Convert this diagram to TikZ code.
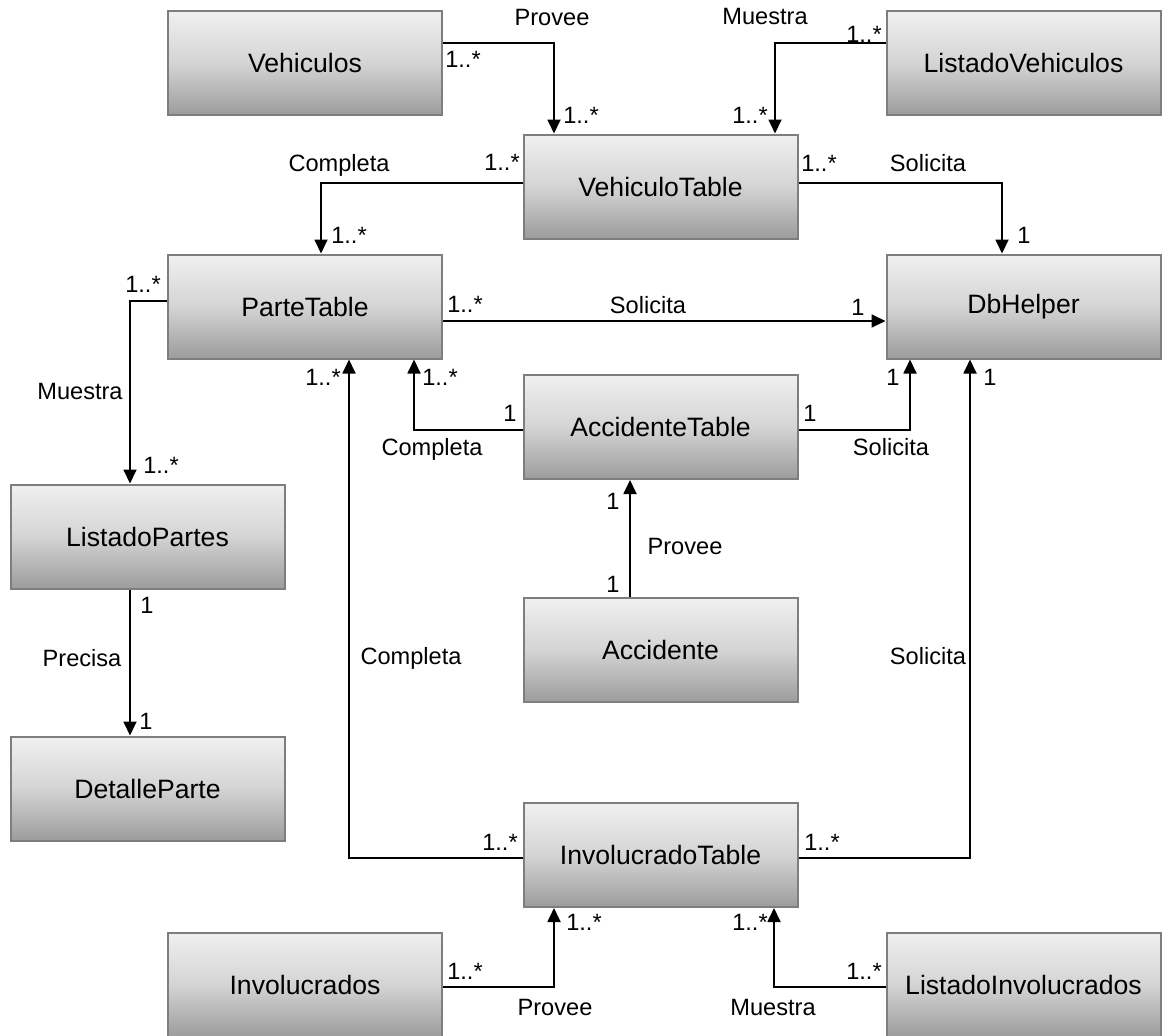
\documentclass[tikz,border=0pt]{standalone}
\usepackage{fontspec}
\setmainfont{Liberation Sans}
\usetikzlibrary{arrows.meta}
\definecolor{boxtop}{HTML}{F0F0F0}
\definecolor{boxmid}{HTML}{D4D4D4}
\definecolor{boxbot}{HTML}{9C9C9C}
\definecolor{boxline}{HTML}{7E7E7E}
\begin{document}
\begin{tikzpicture}[x=0.5pt,y=-0.5pt,
  cls/.style={draw=boxline, line width=1pt, minimum width=137pt, minimum height=52pt,
    inner sep=0pt, top color=boxtop, bottom color=boxbot, middle color=boxmid,
    font=\fontsize{13.3}{16}\selectfont},
  conn/.style={line width=0.9pt, -{Triangle[length=7pt,width=6.5pt]}},
  lbl/.style={font=\fontsize{11.8}{14}\selectfont, inner sep=0pt, text height=0.72em, text depth=0pt}]
\useasboundingbox (0,0) rectangle (1166,1035);

% classes
\node[cls] (veh)  at (305,63)     {Vehiculos};
\node[cls] (lveh) at (1023.5,63)  {ListadoVehiculos};
\node[cls] (vt)   at (660.5,186.5){VehiculoTable};
\node[cls] (pt)   at (305,306.5)  {ParteTable};
\node[cls] (db)   at (1023.5,306.5){DbHelper};
\node[cls] (at)   at (660.5,427)  {AccidenteTable};
\node[cls] (lp)   at (147.5,536.5){ListadoPartes};
\node[cls] (acc)  at (660.5,650)  {Accidente};
\node[cls] (dp)   at (147.5,788.5){DetalleParte};
\node[cls] (it)   at (660.5,855)  {InvolucradoTable};
\node[cls] (inv)  at (305,984.5)  {Involucrados};
\node[cls] (linv) at (1023.5,984.5){ListadoInvolucrados};

% associations
\draw[conn] (veh.east |- 0,43) -| (vt.north -| 554,0);
\draw[conn] (lveh.west |- 0,43) -| (vt.north -| 775,0);
\draw[conn] (vt.west |- 0,183) -| (pt.north -| 321,0);
\draw[conn] (vt.east |- 0,183) -| (db.north -| 1002,0);
\draw[conn] (pt.east |- 0,321) -- (db.west |- 0,321);
\draw[conn] (pt.west |- 0,301) -| (lp.north -| 130,0);
\draw[conn] (lp.south -| 130,0) -- (dp.north -| 130,0);
\draw[conn] (at.west |- 0,430) -| (pt.south -| 414,0);
\draw[conn] (at.east |- 0,430) -| (db.south -| 910,0);
\draw[conn] (acc.north -| 630,0) -- (at.south -| 630,0);
\draw[conn] (it.west |- 0,858) -| (pt.south -| 349,0);
\draw[conn] (it.east |- 0,858) -| (db.south -| 970,0);
\draw[conn] (inv.east |- 0,987) -| (it.south -| 554,0);
\draw[conn] (linv.west |- 0,987) -| (it.south -| 774,0);

% role names and multiplicities
\node[lbl] (a1) at (552,18)  {Provee};
\node[lbl] (a2) at (463,60)  {1..*};
\node[lbl] (a3) at (581,116) {1..*};

\node[lbl] (b1) at (765,17)  {Muestra};
\node[lbl] (b2) at (864,35)  {1..*};
\node[lbl] (b3) at (750,116) {1..*};

\node[lbl] (c1) at (339,164) {Completa};
\node[lbl] (c2) at (502,163) {1..*};
\node[lbl] (c3) at (349,236) {1..*};

\node[lbl] (d1) at (928,164) {Solicita};
\node[lbl] (d2) at (819,164) {1..*};
\node[lbl] (d3) at (1024,236){1};

\node[lbl] (e1) at (648,306) {Solicita};
\node[lbl] (e2) at (465,305) {1..*};
\node[lbl] (e3) at (858,308) {1};

\node[lbl] (f1) at (80,392)  {Muestra};
\node[lbl] (f2) at (143,285) {1..*};
\node[lbl] (f3) at (161,466) {1..*};

\node[lbl] (g1) at (82,659)  {Precisa};
\node[lbl] (g2) at (147,606) {1};
\node[lbl] (g3) at (146,722) {1};

\node[lbl] (h1) at (432,448) {Completa};
\node[lbl] (h2) at (510,414) {1};
\node[lbl] (h3) at (440,378) {1..*};

\node[lbl] (i1) at (891,448) {Solicita};
\node[lbl] (i2) at (810,414) {1};
\node[lbl] (i3) at (893,378) {1};

\node[lbl] (j1) at (685,547) {Provee};
\node[lbl] (j2) at (613,585) {1};
\node[lbl] (j3) at (613,502) {1};

\node[lbl] (k1) at (411,657) {Completa};
\node[lbl] (k2) at (500,843) {1..*};
\node[lbl] (k3) at (323,378) {1..*};

\node[lbl] (m1) at (928,657) {Solicita};
\node[lbl] (m2) at (822,843) {1..*};
\node[lbl] (m3) at (990,378) {1};

\node[lbl] (p1) at (555,1008){Provee};
\node[lbl] (p2) at (465,972) {1..*};
\node[lbl] (p3) at (584,923) {1..*};

\node[lbl] (q1) at (773,1008){Muestra};
\node[lbl] (q2) at (864,972) {1..*};
\node[lbl] (q3) at (750,923) {1..*};
\end{tikzpicture}
\end{document}
